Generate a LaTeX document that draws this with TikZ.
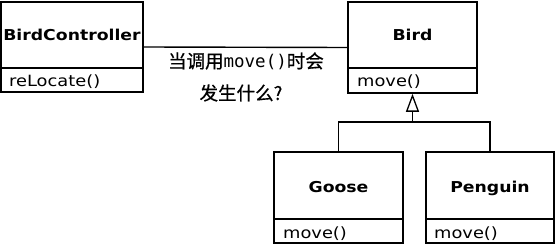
\documentclass[tikz,border=0pt]{standalone}
\usepackage{fontspec}
\setmainfont{DejaVu Sans}[FakeStretch=1.15]
\newfontfamily\cjk{Noto Sans CJK SC}[FakeBold=0.6]
\newfontfamily\codefont{DejaVu Sans Mono}
\usetikzlibrary{arrows.meta}
\begin{document}
\begin{tikzpicture}[x=1pt,y=-1pt,
  cls/.style={draw, line width=1.6pt, inner sep=0pt},
  cname/.style={font=\fontsize{15}{17}\selectfont\bfseries, anchor=base, inner sep=0pt},
  meth/.style={font=\fontsize{15.5}{17}\selectfont, anchor=base west, inner sep=0pt},
  wire/.style={line width=1.4pt},
  note/.style={font=\cjk\fontsize{18.5}{20}\selectfont, anchor=base, inner sep=0pt}]
\useasboundingbox (0,0) rectangle (555,246);
% class boxes
\node[cls, minimum width=142pt, minimum height=90pt] (bc) at (72,47) {};
\node[cls, minimum width=129pt, minimum height=91pt] (bird) at (412.5,47.5) {};
\node[cls, minimum width=129pt, minimum height=91pt] (goose) at (338.5,197.5) {};
\node[cls, minimum width=128pt, minimum height=91pt] (peng) at (490,197.5) {};
% compartment dividers
\draw[line width=1.6pt] (bc.west |- 0,68) -- (bc.east |- 0,68);
\draw[line width=1.6pt] (bird.west |- 0,68) -- (bird.east |- 0,68);
\draw[line width=1.6pt] (goose.west |- 0,219) -- (goose.east |- 0,219);
\draw[line width=1.6pt] (peng.west |- 0,219) -- (peng.east |- 0,219);
% class names
\node[cname] (bcn) at (72,40.5) {BirdController};
\node[cname] (birdn) at (412.5,40.5) {Bird};
\node[cname] (goosen) at (338.5,192) {Goose};
\node[cname] (pengn) at (490,192) {Penguin};
% operations
\node[meth] (bcm) at (9,87) {reLocate()};
\node[meth] (birdm) at (357,87) {move()};
\node[meth] (goosem) at (283,238) {move()};
\node[meth] (pengm) at (434,238) {move()};
% association
\draw[wire] (bc.east) -- (bird.west);
\node[note] (q1) at (246,68) {当调用{\codefont\fontsize{17.5}{20}\selectfont move()}时会};
\node[note] (q2) at (241,100) {发生什么?};
% generalization
\coordinate (j) at (412.5,122);
\draw[wire] (goose.north) |- (j) -| (peng.north);
\draw[wire, -{Triangle[open, width=13pt, length=18pt, line width=1.3pt]}] (j) -- (bird.south);
\end{tikzpicture}
\end{document}
